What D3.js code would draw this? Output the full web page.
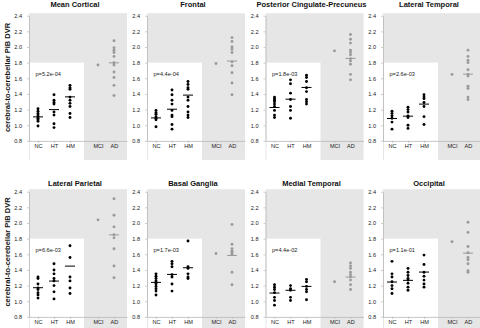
<!DOCTYPE html>
<html><head><meta charset="utf-8">
<script src="https://cdn.jsdelivr.net/npm/d3@7"></script>
<style>
body{margin:0;background:#fff}
svg{display:block}
text{font-family:"Liberation Sans",Arial,Helvetica,sans-serif}
</style>
</head><body>
<svg id="c" width="480" height="328"></svg>
<script>
// ---------- data ----------
const regions = ["Mean Cortical","Frontal","Posterior Cingulate-Precuneus","Lateral Temporal",
                 "Lateral Parietal","Basal Ganglia","Medial Temporal","Occipital"];
const pValues = ["p=5.2e-04","p=4.4e-04","p=1.8e-03","p=2.6e-03","p=6.6e-03","p=1.7e-03","p=4.4e-02","p=1.1e-01"];
const groups = ["NC","HT","HM","MCI","AD"];
const yTicks = [0.8,1.0,1.2,1.4,1.6,1.8,2.0,2.2,2.4];
const yLabel = "cerebral-to-cerebellar PiB DVR";

const valuesNC = [
  [1.21,1.18,1.15,1.13,1.11,1.09,1.07,1.05,0.99],
  [1.19,1.16,1.14,1.11,1.09,1.07,0.98],
  [1.36,1.34,1.32,1.30,1.27,1.24,1.19,1.13,1.10],
  [1.18,1.15,1.12,1.09,1.04,0.95],
  [1.31,1.29,1.22,1.17,1.15,1.11,1.08,1.04],
  [1.35,1.32,1.29,1.26,1.24,1.22,1.19,1.16,1.13,1.08],
  [1.21,1.18,1.15,1.11,1.05,1.01,0.95],
  [1.51,1.35,1.31,1.25,1.20,1.16,1.10]
];
const valuesHT = [
  [1.39,1.32,1.29,1.27,1.17,1.13,1.02,0.97],
  [1.45,1.39,1.32,1.27,1.19,1.13,1.11,1.01,0.95],
  [1.58,1.53,1.41,1.33,1.24,1.19,1.09],
  [1.23,1.20,1.17,1.12,1.10,1.00,0.96],
  [1.48,1.40,1.35,1.29,1.26,1.20,1.12,1.03],
  [1.51,1.48,1.44,1.34,1.31,1.22,1.13],
  [1.20,1.16,1.14,1.05,1.01],
  [1.42,1.37,1.33,1.29,1.27,1.23,1.18,1.14]
];
const valuesHM = [
  [1.51,1.48,1.46,1.36,1.32,1.28,1.24,1.15,1.10],
  [1.56,1.52,1.48,1.46,1.36,1.32,1.24,1.17,1.13,1.10],
  [1.64,1.61,1.56,1.48,1.43,1.33,1.30,1.27],
  [1.39,1.36,1.34,1.29,1.24,1.11,1.01],
  [1.71,1.56,1.31,1.26,1.17,1.10],
  [1.77,1.44,1.42,1.35,1.31,1.29],
  [1.28,1.25,1.19,1.15,1.12,1.02],
  [1.59,1.47,1.37,1.32,1.27,1.22,1.18]
];
const valuesMCI = [[1.77],[1.79],[1.95],[1.65],[2.04],[1.61],[1.25],[1.76]];
const valuesAD = [
  [2.08,1.99,1.96,1.93,1.88,1.80,1.77,1.68,1.61,1.51,1.38],
  [2.12,2.07,2.00,1.97,1.93,1.81,1.76,1.67,1.54,1.39],
  [2.16,2.10,2.05,1.96,1.93,1.90,1.85,1.82,1.78,1.65,1.58],
  [1.96,1.88,1.83,1.80,1.71,1.65,1.63,1.50,1.47,1.36,1.33],
  [2.31,2.10,1.95,1.85,1.81,1.67,1.45,1.30],
  [1.98,1.73,1.67,1.64,1.62,1.60,1.37,1.21],
  [1.49,1.45,1.42,1.37,1.34,1.31,1.27,1.21,1.15],
  [2.01,1.88,1.70,1.62,1.56,1.53,1.48,1.39,1.37]
];
// group means (NC, HT, HM, AD) per region
const meansNC = [1.107,1.094,1.227,1.086,1.173,1.241,1.105,1.246];
const meansHT = [1.200,1.205,1.333,1.116,1.258,1.343,1.140,1.267];
const meansHM = [1.363,1.385,1.483,1.270,1.449,1.428,1.190,1.373];
const meansAD = [1.798,1.820,1.854,1.653,1.848,1.585,1.309,1.615];

// ---------- layout ----------
const svg = d3.select("#c");
const colX = [29, 147, 265.5, 383];
const rowTop = [15.7, 191.7];
const titleY = [6.9, 186];
const yLabelCenter = [77.5, 252];
const plotW = 98, plotH = 125.2;
const grayBg = "#e6e6e6", axisCol = "#b8b8b8", dotGray = "#9a9a9a";
const groupPos = [0, 1, 2, 3.75, 4.75];

const y = d3.scaleLinear().domain([0.8, 2.4]).range([plotH, 0]);
const x = d3.scaleLinear().domain([-0.5625, 5.5625]).range([0, plotW]);

const allValues = [valuesNC, valuesHT, valuesHM, valuesMCI, valuesAD];
const allMeans = [meansNC, meansHT, meansHM, null, meansAD];

regions.forEach((name, i) => {
  const col = i % 4, row = Math.floor(i / 4);
  const g = svg.append("g").attr("transform", `translate(${colX[col]},${rowTop[row]})`);

  // backgrounds
  g.append("rect").attr("x", 0).attr("y", -2.5).attr("width", plotW).attr("height", plotH + 21.5)
    .attr("fill", grayBg);
  g.append("rect").attr("x", 1).attr("y", y(1.8)).attr("width", x(2.875) - 1)
    .attr("height", plotH + 19 - y(1.8)).attr("fill", "#fff");

  // axes
  const ya = g.append("g").call(d3.axisLeft(y).tickValues(yTicks).tickSize(2).tickSizeOuter(0)
    .tickPadding(5).tickFormat(d3.format(".1f")));
  const xa = g.append("g").attr("transform", `translate(0,${plotH})`)
    .call(d3.axisBottom(x).tickValues(groupPos).tickSize(2).tickSizeOuter(0).tickPadding(1.4)
      .tickFormat((d, k) => groups[k]));
  [ya, xa].forEach(a => {
    a.select(".domain").attr("stroke", axisCol).attr("stroke-width", 0.8);
    a.selectAll(".tick line").attr("stroke", axisCol).attr("stroke-width", 0.7);
    a.selectAll(".tick text").attr("fill", "#222").style("font-size", "5.6px")
      .style("font-family", '"Liberation Sans",Arial,sans-serif');
  });

  // points
  groups.forEach((grp, k) => {
    const vals = allValues[k][i];
    const col2 = k < 3 ? "#000" : dotGray;
    g.append("g").selectAll("circle").data(vals).join("circle")
      .attr("cx", x(groupPos[k])).attr("cy", d => y(d)).attr("r", 1.45).attr("fill", col2);
    if (allMeans[k]) {
      const m = allMeans[k][i];
      g.append("line").attr("x1", x(groupPos[k]) - 5).attr("x2", x(groupPos[k]) + 5)
        .attr("y1", y(m)).attr("y2", y(m)).attr("stroke", col2).attr("stroke-width", 1);
    }
  });

  // p-value
  g.append("text").attr("x", 6.5).attr("y", y(1.635)).text(pValues[i])
    .attr("fill", "#222").style("font-size", "5.6px");

  // title
  svg.append("text").attr("x", colX[col] + 46).attr("y", titleY[row]).attr("text-anchor", "middle")
    .style("font-size", "7.5px").style("font-weight", "bold").attr("fill", "#111").text(name);

  if (col === 0) {
    svg.append("text").attr("transform", `translate(10,${yLabelCenter[row]}) rotate(-90)`)
      .attr("text-anchor", "middle").style("font-size", "7.5px").style("font-weight", "bold")
      .attr("fill", "#111").text(yLabel);
  }
});
</script>
</body></html>
